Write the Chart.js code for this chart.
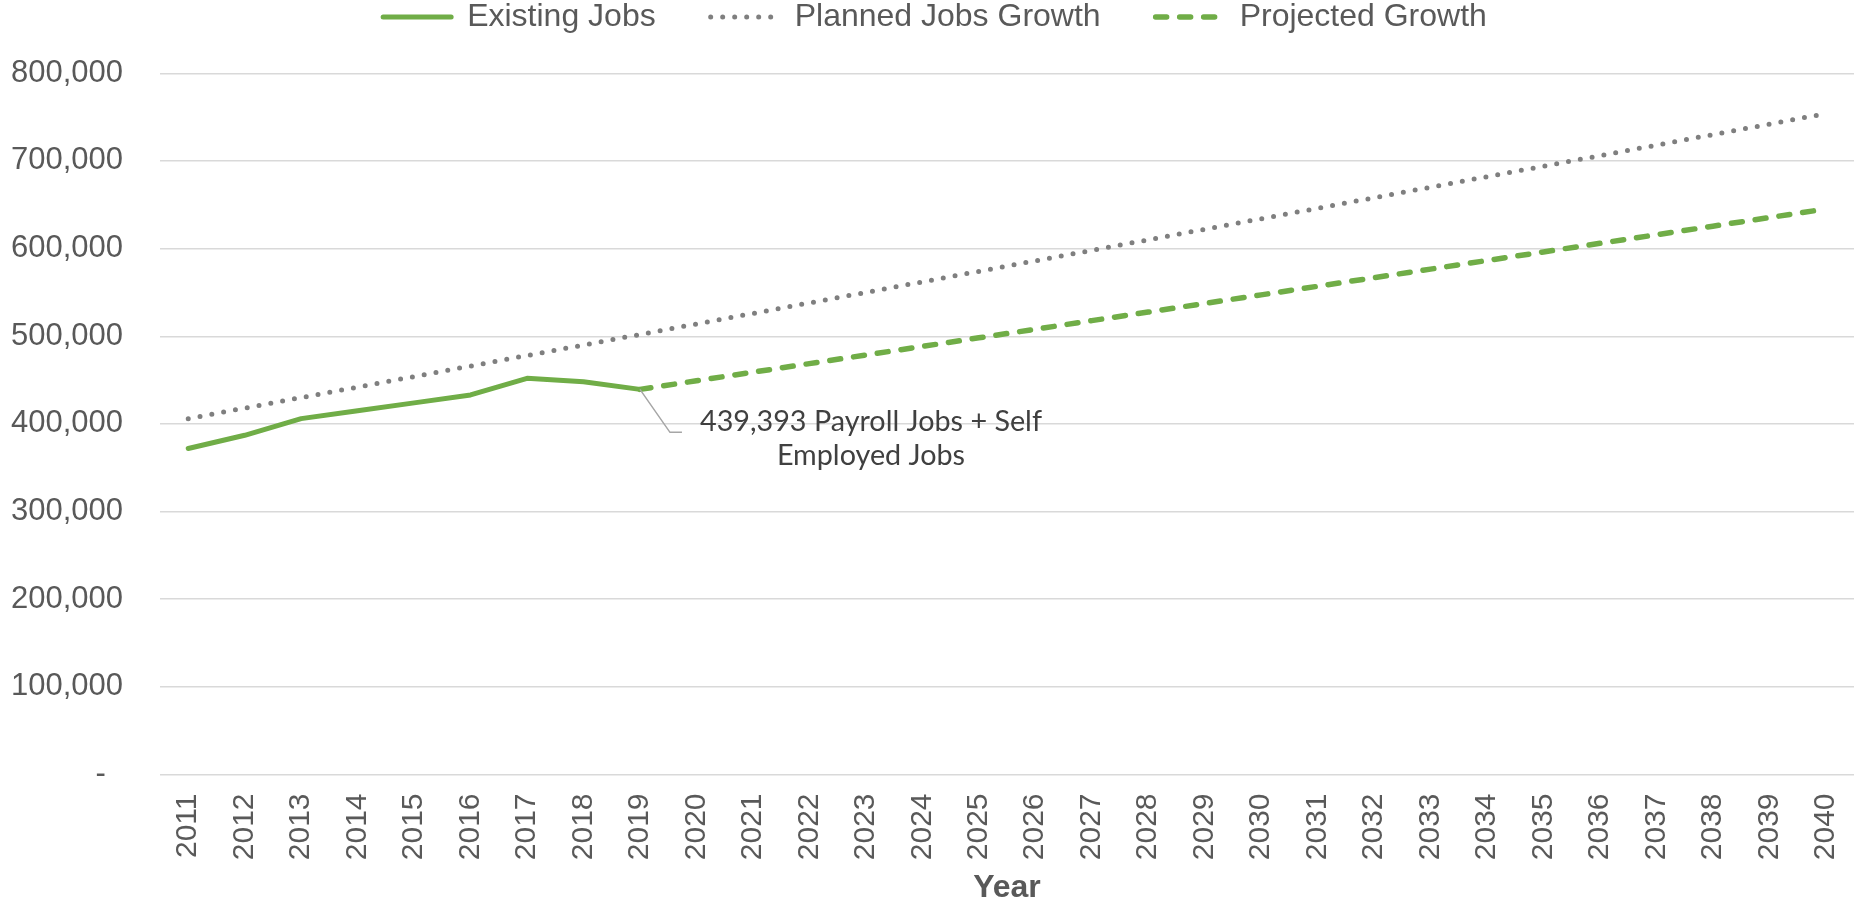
<!DOCTYPE html>
<html><head><meta charset="utf-8">
<script src="https://cdn.jsdelivr.net/npm/chart.js@4/dist/chart.umd.min.js"></script>
<style>html,body{margin:0;padding:0;background:#fff;} canvas{display:block;}</style>
</head><body>
<canvas id="c" width="1854" height="904"></canvas>
<script>
const years = ['2011','2012','2013','2014','2015','2016','2017','2018','2019','2020',
  '2021','2022','2023','2024','2025','2026','2027','2028','2029','2030',
  '2031','2032','2033','2034','2035','2036','2037','2038','2039','2040'];
const existingJobs = [372000,387000,406000,415000,424000,433000,452000,448000,439393,
  null,null,null,null,null,null,null,null,null,null,null,null,null,null,null,null,null,null,null,null,null];
const plannedJobsGrowth = [406000,418000,430000,442000,454000,466000,478000,490000,502000,514000,
  526000,538000,550000,562000,574000,586000,598000,610000,622000,634000,
  646000,658000,670000,682000,694000,706000,718000,730000,742000,754000];
const projectedGrowth = [null,null,null,null,null,null,null,null,439393,449200,
  459000,468800,478600,488400,498200,508000,517800,527600,537400,547200,
  557000,566800,576600,586400,596200,606000,615800,625600,635400,645200];
const seriesNames = ['Existing Jobs','Planned Jobs Growth','Projected Growth'];
const calloutLines = ['439,393 Payroll Jobs + Self','Employed Jobs'];
const yTickMax = 800000, yTickStep = 100000;

const FONT = '"Liberation Sans", Arial, sans-serif';
const GREEN = '#70ad47', GREY = '#7f7f7f', TEXT = '#595959';

const legendSizer = {
  id: 'legendSizer',
  beforeInit(chart) {
    const lg = chart.legend;
    const orig = lg.fit;
    lg.fit = function () { orig.call(this); this.height = 127.3; };
  },
  afterLayout(chart) {
    chart.legend.left += 8;
    chart.legend.right += 8;
  }
};

const calloutPlugin = {
  id: 'callout',
  afterDatasetsDraw(chart) {
    let idx = -1;
    existingJobs.forEach((v, i) => { if (v !== null) idx = i; });
    const pt = chart.getDatasetMeta(0).data[idx];
    if (!pt) return;
    const { x, y } = pt;
    const ctx = chart.ctx;
    ctx.save();
    ctx.strokeStyle = '#a6a6a6';
    ctx.lineWidth = 1.5;
    ctx.beginPath();
    ctx.moveTo(x, y);
    ctx.lineTo(x + 30, y + 43);
    ctx.lineTo(x + 42, y + 43);
    ctx.stroke();
    ctx.fillStyle = '#404040';
    ctx.font = '29px Lato, "Open Sans", sans-serif';
    ctx.textAlign = 'center';
    ctx.textBaseline = 'alphabetic';
    const w1 = ctx.measureText(calloutLines[0]).width;
    const sx = 342 / w1;
    calloutLines.forEach((t, i) => {
      ctx.save();
      ctx.translate(x + 231, y + 42 + i * 34);
      ctx.scale(sx, 1);
      ctx.fillText(t, 0, 0);
      ctx.restore();
    });
    ctx.restore();
  }
};

new Chart(document.getElementById('c'), {
  type: 'line',
  data: {
    labels: years,
    datasets: [
      { label: seriesNames[0], data: existingJobs, borderColor: GREEN, backgroundColor: GREEN,
        borderWidth: 5, pointRadius: 0, tension: 0, borderCapStyle: 'round', borderJoinStyle: 'round', spanGaps: false },
      { label: seriesNames[1], data: plannedJobsGrowth, borderColor: GREY, backgroundColor: GREY,
        borderWidth: 5, borderDash: [0, 12], borderCapStyle: 'round', pointRadius: 0, tension: 0 },
      { label: seriesNames[2], data: projectedGrowth, borderColor: GREEN, backgroundColor: GREEN,
        borderWidth: 5.5, borderDash: [11, 13], borderCapStyle: 'round', pointRadius: 0, tension: 0 }
    ]
  },
  options: {
    responsive: false,
    animation: false,
    devicePixelRatio: 1,
    layout: { padding: { top: -54, left: 0, right: 0, bottom: 0 } },
    plugins: {
      legend: {
        position: 'top',
        labels: {
          color: TEXT,
          font: { family: FONT, size: 32 },
          usePointStyle: true,
          pointStyle: 'line',
          pointStyleWidth: 68,
          boxHeight: 32,
          padding: 55,
          generateLabels(chart) {
            const items = Chart.defaults.plugins.legend.labels.generateLabels(chart);
            items.forEach(it => {
              const ds = chart.data.datasets[it.datasetIndex];
              it.lineDash = ds.borderDash || [];
              it.lineCap = ds.borderCapStyle || 'butt';
              it.lineWidth = ds.borderWidth;
              it.strokeStyle = ds.borderColor;
              it.fillStyle = ds.borderColor;
              it.pointStyle = 'line';
            });
            return items;
          }
        }
      },
      tooltip: { enabled: false }
    },
    scales: {
      x: {
        offset: true,
        grid: { display: false },
        border: { display: false },
        ticks: { color: TEXT, font: { family: FONT, size: 30 }, minRotation: 90, maxRotation: 90, padding: 11, autoSkip: false },
        title: { display: true, text: 'Year', color: TEXT, font: { family: FONT, size: 32, weight: 'bold', lineHeight: 1.0 }, padding: { top: 0, bottom: 0 } },
        afterFit(scale) { scale.height = 129.5; scale.paddingLeft = 0; scale.paddingRight = 0; }
      },
      y: {
        min: 0, max: yTickMax,
        grid: { color: '#d9d9d9', lineWidth: 1.5, drawTicks: false },
        border: { display: false },
        ticks: {
          stepSize: yTickStep, color: TEXT, font: { family: FONT, size: 31 }, padding: 37,
          callback: v => v === 0 ? '-  ' : v.toLocaleString('en-US')
        },
        afterFit(scale) { scale.width = 160; }
      }
    }
  },
  plugins: [legendSizer, calloutPlugin]
});
</script>
</body></html>
